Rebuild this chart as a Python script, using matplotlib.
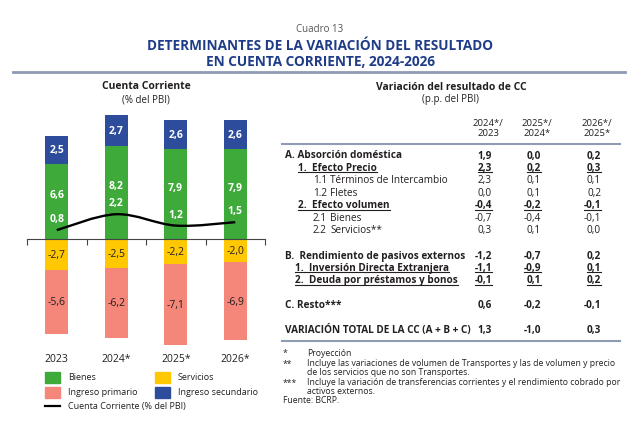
import matplotlib.pyplot as plt
import matplotlib.patches as mpatches
from matplotlib.lines import Line2D
from matplotlib.path import Path
import numpy as np

plt.rcParams['font.family'] = ['Open Sans', 'DejaVu Sans']

# data
years = ['2023', '2024*', '2025*', '2026*']
bienes = [6.6, 8.2, 7.9, 7.9]
ing_secundario = [2.5, 2.7, 2.6, 2.6]
servicios = [-2.7, -2.5, -2.2, -2.0]
ing_primario = [-5.6, -6.2, -7.1, -6.9]
cuenta_corriente = [0.8, 2.2, 1.2, 1.5]

col_headers = [('2024*/', '2023'), ('2025*/', '2024*'), ('2026*/', '2025*')]
# (label, indent px, bold, underline, values)
rows = [
    ('A. Absorción doméstica', 0, True, False, ['1,9', '0,0', '0,2']),
    ('1.  Efecto Precio', 13, True, True, ['2,3', '0,2', '0,3']),
    ('1.1', 28, False, False, ['2,3', '0,1', '0,1']),
    ('1.2', 28, False, False, ['0,0', '0,1', '0,2']),
    ('2.  Efecto volumen', 13, True, True, ['-0,4', '-0,2', '-0,1']),
    ('2.1', 28, False, False, ['-0,7', '-0,4', '-0,1']),
    ('2.2', 28, False, False, ['0,3', '0,1', '0,0']),
    None,
    ('B.  Rendimiento de pasivos externos', 0, True, False, ['-1,2', '-0,7', '0,2']),
    ('1.  Inversión Directa Extranjera', 10, True, True, ['-1,1', '-0,9', '0,1']),
    ('2.  Deuda por préstamos y bonos', 10, True, True, ['-0,1', '0,1', '0,2']),
    None,
    ('C. Resto***', 0, True, False, ['0,6', '-0,2', '-0,1']),
    None,
    ('VARIACIÓN TOTAL DE LA CC (A + B + C)', 0, True, False, ['1,3', '-1,0', '0,3']),
]
sub_names = {'1.1': 'Términos de Intercambio', '1.2': 'Fletes',
             '2.1': 'Bienes', '2.2': 'Servicios**'}

c_green = '#3DAA3A'
c_blue = '#2D4C9B'
c_yellow = '#FFC800'
c_pink = '#F4877A'
c_title = '#1F3C88'
c_rule = '#8E9BB4'
c_text = '#231F20'

W, H = 640, 435
fig = plt.figure(figsize=(6.4, 4.35), dpi=100)


def fx(x):
    return x / W


def fy(y):
    return 1 - y / H


# titles
fig.text(fx(320), fy(29), 'Cuadro 13', ha='center', va='center', fontsize=7, color='#555555')
fig.text(fx(320), fy(46), 'DETERMINANTES DE LA VARIACIÓN DEL RESULTADO', ha='center', va='center',
         fontsize=9.8, fontweight='bold', color=c_title)
fig.text(fx(320), fy(62), 'EN CUENTA CORRIENTE, 2024-2026', ha='center', va='center',
         fontsize=9.8, fontweight='bold', color=c_title)
fig.add_artist(Line2D([fx(13), fx(625)], [fy(73), fy(73)], color=c_rule, lw=2))

# left chart
fig.text(fx(146), fy(87), 'Cuenta Corriente', ha='center', va='center', fontsize=7.5,
         fontweight='bold', color=c_text)
fig.text(fx(146), fy(100), '(% del PBI)', ha='center', va='center', fontsize=7, color=c_text)

ax = fig.add_axes([fx(27), fy(350), fx(265) - fx(27), (350 - 110) / H])
x = np.arange(len(years))
bw = 0.39
ax.bar(x, bienes, bw, color=c_green)
ax.bar(x, ing_secundario, bw, bottom=bienes, color=c_blue)
ax.bar(x, servicios, bw, color=c_yellow)
ax.bar(x, ing_primario, bw, bottom=servicios, color=c_pink)

# smooth line through the points (bezier path)
pts = np.column_stack([x, cuenta_corriente]).astype(float)
verts = [tuple(pts[0])]
codes = [Path.MOVETO]
for i in range(len(pts) - 1):
    p0 = pts[max(i - 1, 0)]
    p1 = pts[i]
    p2 = pts[i + 1]
    p3 = pts[min(i + 2, len(pts) - 1)]
    c1 = p1 + (p2 - p0) / 6
    c2 = p2 - (p3 - p1) / 6
    verts += [tuple(c1), tuple(c2), tuple(p2)]
    codes += [Path.CURVE4] * 3
ax.add_patch(mpatches.PathPatch(Path(verts, codes), fill=False, lw=1.7, color='black', zorder=3))

fmt = lambda v: f'{v:.1f}'.replace('.', ',')
for i in range(len(years)):
    ax.text(x[i], bienes[i] + ing_secundario[i] / 2, fmt(ing_secundario[i]), ha='center',
            va='center', color='white', fontsize=7.5, fontweight='bold')
    ax.text(x[i], bienes[i] / 2 + 0.6, fmt(bienes[i]), ha='center', va='center',
            color='white', fontsize=7.5, fontweight='bold')
    ax.text(x[i], cuenta_corriente[i] + 1.0, fmt(cuenta_corriente[i]), ha='center', va='center',
            color='white', fontsize=7.5, fontweight='bold')
    ax.text(x[i], servicios[i] / 2, fmt(servicios[i]), ha='center', va='center',
            color=c_text, fontsize=7.5)
    ax.text(x[i], servicios[i] + ing_primario[i] / 2, fmt(ing_primario[i]), ha='center',
            va='center', color=c_text, fontsize=7.5)
    ax.text(x[i], -10.45, years[i], ha='center', va='center', color=c_text, fontsize=7.5)

ax.set_xlim(-0.5, len(years) - 0.5)
ax.set_ylim(-9.65, 11.45)
for s in ['top', 'right', 'left']:
    ax.spines[s].set_visible(False)
ax.spines['bottom'].set_position(('data', 0))
ax.spines['bottom'].set_color('#444444')
ax.spines['bottom'].set_zorder(4)
ax.set_yticks([])
ax.set_xticks(np.arange(-0.5, len(years), 1.0))
ax.tick_params(axis='x', length=4, color='#444444', labelbottom=False)

# legend
leg = [(45, 378, c_green, 'Bienes'), (155, 378, c_yellow, 'Servicios'),
       (45, 393, c_pink, 'Ingreso primario'), (155, 393, c_blue, 'Ingreso secundario')]
for lx, ly, c, t in leg:
    fig.add_artist(mpatches.Rectangle((fx(lx), fy(ly + 5.5)), 15 / W, 11 / H, color=c))
    fig.text(fx(lx + 23), fy(ly), t, ha='left', va='center', fontsize=6.5, color=c_text)
fig.add_artist(Line2D([fx(45), fx(60)], [fy(407), fy(407)], color='black', lw=1.6))
fig.text(fx(68), fy(407), 'Cuenta Corriente (% del PBI)', ha='left', va='center', fontsize=6.5,
         color=c_text)

# right table
fig.text(fx(451), fy(88), 'Variación del resultado de CC', ha='center', va='center', fontsize=7.5,
         fontweight='bold', color=c_text)
fig.text(fx(451), fy(100), '(p.p. del PBI)', ha='center', va='center', fontsize=7, color=c_text)
col_x = [488, 537, 597]
for cx, (h1, h2) in zip(col_x, col_headers):
    fig.text(fx(cx), fy(123), h1, ha='center', va='center', fontsize=6.8, color=c_text)
    fig.text(fx(cx), fy(134), h2, ha='center', va='center', fontsize=6.8, color=c_text)
fig.add_artist(Line2D([fx(282), fx(620)], [fy(145), fy(145)], color=c_rule, lw=1.5))

renderer = fig.canvas.get_renderer()


def underline(t):
    bb = t.get_window_extent(renderer=renderer)
    y0 = bb.y0 + 1.0
    fig.add_artist(Line2D([bb.x0 / W, bb.x1 / W], [y0 / H, y0 / H], color=c_text, lw=0.8))


row_y = 156
for r in rows:
    if r is None:
        row_y += 12.5
        continue
    label, ind, bold, ul, vals = r
    fw = 'bold' if bold else 'normal'
    t = fig.text(fx(285 + ind), fy(row_y), label, ha='left', va='center', fontsize=7.2,
                 fontweight=fw, color=c_text)
    if label in sub_names:
        fig.text(fx(330), fy(row_y), sub_names[label], ha='left', va='center', fontsize=7.2,
                 color=c_text)
    if ul:
        underline(t)
    for cx, v in zip(col_x, vals):
        tv = fig.text(fx(cx + 4), fy(row_y), v, ha='right', va='center', fontsize=7.2,
                      fontweight=fw, color=c_text)
        if ul:
            underline(tv)
    row_y += 12.5

fig.add_artist(Line2D([fx(282), fx(620)], [fy(342), fy(342)], color=c_rule, lw=1.5))

# footnotes
notes = [('*', 'Proyección', 353),
         ('**', 'Incluye las variaciones de volumen de Transportes y las de volumen y precio', 364),
         ('', 'de los servicios que no son Transportes.', 373),
         ('***', 'Incluye la variación de transferencias corrientes y el rendimiento cobrado por', 383),
         ('', 'activos externos.', 392)]
for m, t, ny in notes:
    fig.text(fx(283), fy(ny), m, ha='left', va='center', fontsize=6.2, color=c_text)
    fig.text(fx(307), fy(ny), t, ha='left', va='center', fontsize=6.2, color=c_text)
fig.text(fx(283), fy(401), 'Fuente: BCRP.', ha='left', va='center', fontsize=6.2, color=c_text)

fig.savefig('out.png', dpi=100)
